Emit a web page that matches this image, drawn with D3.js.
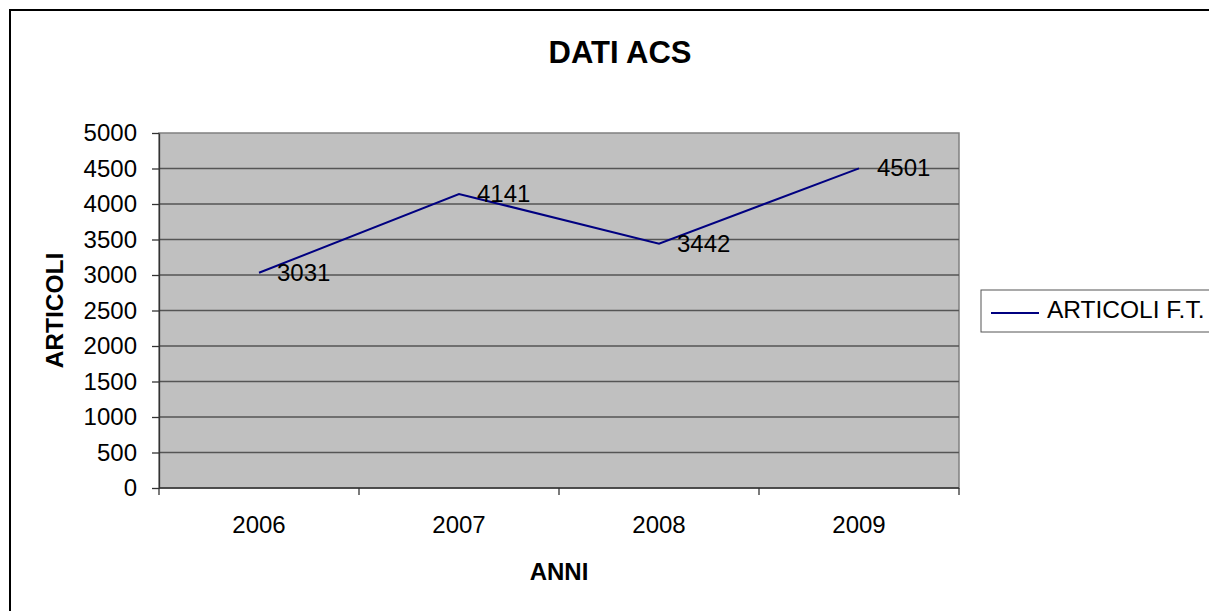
<!DOCTYPE html>
<html>
<head>
<meta charset="utf-8">
<script src="https://cdn.jsdelivr.net/npm/d3@7"></script>
<style>
  html, body { margin: 0; background: #fff; overflow: hidden; }
  svg { display: block; }
  svg text { font-family: "Liberation Sans", Arial, sans-serif; fill: #000; }
  .grid line { stroke: #555; stroke-width: 1.3; }
  .axis path, .axis line { stroke: #333; stroke-width: 1.3; }
</style>
</head>
<body>
<div id="chart"></div>
<script>
// data
var years = ["2006", "2007", "2008", "2009"];
var articoli = [3031, 4141, 3442, 4501];
var yTicks = [0, 500, 1000, 1500, 2000, 2500, 3000, 3500, 4000, 4500, 5000];
var seriesName = "ARTICOLI F.T.";

var W = 1209, H = 611;
var margin = {top: 133, left: 159},
    width = 800,
    height = 355;

var svg = d3.select("#chart").append("svg")
    .attr("width", W)
    .attr("height", H);

// outer chart frame (runs off the right and bottom of the window)
svg.append("rect")
    .attr("x", 10).attr("y", 10)
    .attr("width", 1300).attr("height", 700)
    .attr("fill", "#fff")
    .attr("stroke", "#000")
    .attr("stroke-width", 2);

svg.append("text")
    .attr("x", 620).attr("y", 63)
    .attr("text-anchor", "middle")
    .style("font-size", "31px")
    .style("font-weight", "bold")
    .text("DATI ACS");

var g = svg.append("g")
    .attr("transform", "translate(" + margin.left + "," + margin.top + ")");

var x = d3.scaleBand().domain(years).range([0, width]);
var y = d3.scaleLinear().domain([0, 5000]).range([height, 0]);

g.append("rect")
    .attr("width", width).attr("height", height)
    .attr("fill", "#c0c0c0")
    .attr("stroke", "#808080")
    .attr("stroke-width", 1.5);

// horizontal gridlines
g.append("g")
    .attr("class", "grid")
    .selectAll("line")
    .data(yTicks.filter(function(d) { return d > 0 && d < 5000; }))
    .enter().append("line")
    .attr("x1", 0).attr("x2", width)
    .attr("y1", function(d) { return y(d); })
    .attr("y2", function(d) { return y(d); });

// y axis
var yAxis = g.append("g")
    .attr("class", "axis")
    .call(d3.axisLeft(y).tickValues(yTicks).tickFormat(d3.format("d"))
        .tickSize(7).tickPadding(15).tickSizeOuter(0));
yAxis.selectAll("text").style("font-size", "24px");

// x axis: ticks sit on the band edges, labels in the middle
var edges = years.map(function(d) { return x(d); }).concat([width]);
var xAxis = g.append("g")
    .attr("class", "axis")
    .attr("transform", "translate(0," + height + ")");
xAxis.append("line")
    .attr("x1", 0).attr("x2", width);
xAxis.selectAll(".tick-mark")
    .data(edges)
    .enter().append("line")
    .attr("class", "tick-mark")
    .attr("x1", function(d) { return d; }).attr("x2", function(d) { return d; })
    .attr("y1", 0).attr("y2", 7);
xAxis.selectAll(".xlab")
    .data(years)
    .enter().append("text")
    .attr("class", "xlab")
    .attr("x", function(d) { return x(d) + x.bandwidth() / 2; })
    .attr("y", 45)
    .attr("text-anchor", "middle")
    .style("font-size", "24px")
    .text(function(d) { return d; });

// axis titles
svg.append("text")
    .attr("transform", "translate(63," + (margin.top + height / 2) + ") rotate(-90)")
    .attr("text-anchor", "middle")
    .style("font-size", "24.5px")
    .style("font-weight", "bold")
    .text("ARTICOLI");

svg.append("text")
    .attr("x", margin.left + width / 2).attr("y", 580)
    .attr("text-anchor", "middle")
    .style("font-size", "24px")
    .style("font-weight", "bold")
    .text("ANNI");

// the line
var line = d3.line()
    .x(function(d, i) { return x(years[i]) + x.bandwidth() / 2; })
    .y(function(d) { return y(d); });

g.append("path")
    .datum(articoli)
    .attr("fill", "none")
    .attr("stroke", "#000080")
    .attr("stroke-width", 2)
    .attr("d", line);

// value labels
g.selectAll(".vlab")
    .data(articoli)
    .enter().append("text")
    .attr("class", "vlab")
    .attr("x", function(d, i) { return x(years[i]) + x.bandwidth() / 2 + 18; })
    .attr("y", function(d) { return y(d) + 8; })
    .style("font-size", "24px")
    .text(function(d) { return d; });

// legend
var legend = svg.append("g").attr("transform", "translate(981,290)");
legend.append("rect")
    .attr("width", 260).attr("height", 42)
    .attr("fill", "#fff")
    .attr("stroke", "#555")
    .attr("stroke-width", 1);
legend.append("line")
    .attr("x1", 10).attr("x2", 58)
    .attr("y1", 23).attr("y2", 23)
    .attr("stroke", "#000080")
    .attr("stroke-width", 2);
legend.append("text")
    .attr("x", 66).attr("y", 28)
    .style("font-size", "24.5px")
    .text(seriesName);
</script>
</body>
</html>
